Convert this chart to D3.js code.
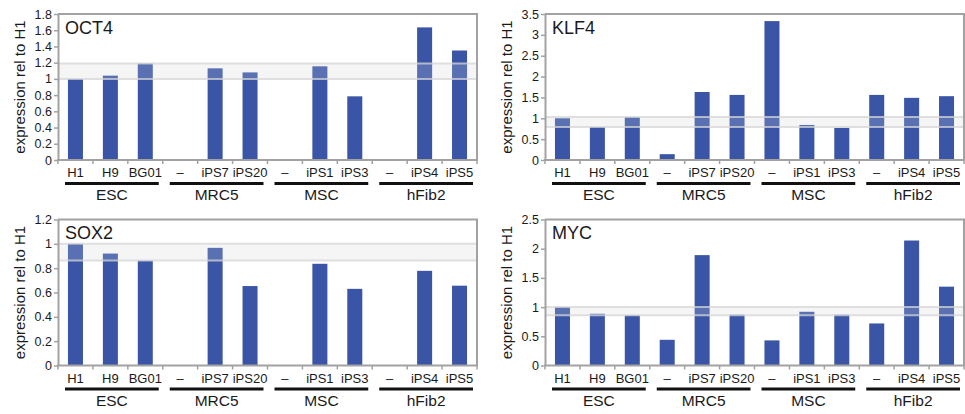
<!DOCTYPE html>
<html>
<head>
<meta charset="utf-8">
<script src="https://cdn.jsdelivr.net/npm/d3@7"></script>
<style>
  body { margin: 0; background: #fff; }
  svg { display: block; }
  text { font-family: "Liberation Sans", Arial, Helvetica, sans-serif; fill: #1a1a1a; }
</style>
</head>
<body>
<svg id="chart" width="965" height="414"></svg>
<script>
// Sample labels along the x axis and the source-cell groups beneath them
const categories = ["H1", "H9", "BG01", "–", "iPS7", "iPS20", "–", "iPS1", "iPS3", "–", "iPS4", "iPS5"];
const groups = ["ESC", "MRC5", "MSC", "hFib2"];

// Expression relative to H1 (null = not measured)
const oct4Values = [1.0, 1.04, 1.19, null, 1.13, 1.08, null, 1.155, 0.785, null, 1.635, 1.35];
const klf4Values = [1.0, 0.79, 1.03, 0.14, 1.63, 1.56, 3.33, 0.84, 0.77, 1.56, 1.49, 1.53];
const sox2Values = [1.0, 0.92, 0.862, null, 0.967, 0.653, null, 0.836, 0.63, null, 0.778, 0.656];
const mycValues  = [1.0, 0.886, 0.86, 0.44, 1.89, 0.87, 0.43, 0.92, 0.87, 0.72, 2.14, 1.35];

// Y tick labels per gene
const oct4Ticks = [0, 0.2, 0.4, 0.6, 0.8, 1, 1.2, 1.4, 1.6, 1.8];
const klf4Ticks = [0, 0.5, 1, 1.5, 2, 2.5, 3, 3.5];
const sox2Ticks = [0, 0.2, 0.4, 0.6, 0.8, 1, 1.2];
const mycTicks  = [0, 0.5, 1, 1.5, 2, 2.5];

const genes = ["OCT4", "KLF4", "SOX2", "MYC"];
const geneValues = [oct4Values, klf4Values, sox2Values, mycValues];
const geneTicks = [oct4Ticks, klf4Ticks, sox2Ticks, mycTicks];

// Layout
const plotW = 419, plotH = 146;
const origins = [[58, 14], [545, 14], [58, 219.5], [545, 219.5]];
const barColor = "#3a55a5";
const frameColor = "#a2a2a2";

const svg = d3.select("#chart");

genes.forEach((gene, gi) => {
  const values = geneValues[gi];
  const ticks = geneTicks[gi];
  const [ox, oy] = origins[gi];
  const g = svg.append("g").attr("transform", `translate(${ox},${oy})`);

  const x = d3.scaleBand()
    .domain(d3.range(categories.length))
    .range([0, plotW])
    .paddingInner(0.57)
    .paddingOuter(0.285);
  const y = d3.scaleLinear()
    .domain([0, d3.max(ticks)])
    .range([plotH, 0]);

  const gap = (x.step() - x.bandwidth()) / 2;
  const boundary = i => (i < categories.length ? x(i) - gap : x(categories.length - 1) + x.bandwidth() + gap);

  // ESC reference range (min..max of the three ESC lines)
  const escExtent = d3.extent(values.slice(0, 3));
  const bandY0 = y(escExtent[1]), bandY1 = y(escExtent[0]);

  g.append("rect")
    .attr("x", 0).attr("y", bandY0)
    .attr("width", plotW).attr("height", bandY1 - bandY0)
    .attr("fill", "#f3f3f3");

  // Bars
  g.selectAll("rect.bar")
    .data(values.map((v, i) => ({ v, i })).filter(d => d.v != null))
    .join("rect")
    .attr("class", "bar")
    .attr("x", d => x(d.i))
    .attr("y", d => y(d.v))
    .attr("width", x.bandwidth())
    .attr("height", d => plotH - y(d.v))
    .attr("fill", barColor);

  // Translucent ESC band over the bars
  g.append("rect")
    .attr("x", 0).attr("y", bandY0)
    .attr("width", plotW).attr("height", bandY1 - bandY0)
    .attr("fill", "#ffffff").attr("fill-opacity", 0.16);
  g.selectAll("line.band")
    .data(escExtent)
    .join("line")
    .attr("class", "band")
    .attr("x1", 0).attr("x2", plotW)
    .attr("y1", d => y(d)).attr("y2", d => y(d))
    .attr("stroke", "#d6d6d6").attr("stroke-opacity", 0.75).attr("stroke-width", 2);

  // Frame: top and right edges
  g.append("path")
    .attr("d", `M0,0H${plotW}V${plotH}`)
    .attr("fill", "none")
    .attr("stroke", frameColor).attr("stroke-width", 2);

  // Y axis
  const yAxis = g.append("g")
    .call(d3.axisLeft(y).tickValues(ticks).tickSize(4).tickSizeOuter(0).tickPadding(2).tickFormat(d3.format("")));
  yAxis.select(".domain").attr("stroke", frameColor).attr("stroke-width", 2);
  yAxis.selectAll(".tick line").attr("stroke", frameColor).attr("stroke-width", 1.5);
  yAxis.selectAll(".tick text")
    .style("font-size", "12.5px")
    .style("font-family", "'Liberation Sans', Arial, sans-serif")
    .attr("fill", "#1a1a1a");

  // X axis baseline with boundary ticks
  g.append("line")
    .attr("x1", -1).attr("x2", plotW + 1)
    .attr("y1", plotH).attr("y2", plotH)
    .attr("stroke", frameColor).attr("stroke-width", 2);
  g.selectAll("line.xtick")
    .data(d3.range(categories.length + 1))
    .join("line")
    .attr("class", "xtick")
    .attr("x1", d => boundary(d)).attr("x2", d => boundary(d))
    .attr("y1", plotH).attr("y2", plotH + 4)
    .attr("stroke", frameColor).attr("stroke-width", 1.5);

  g.selectAll("text.xlab")
    .data(categories)
    .join("text")
    .attr("class", "xlab")
    .attr("x", (d, i) => x(i) + x.bandwidth() / 2)
    .attr("y", plotH + 17)
    .attr("text-anchor", "middle")
    .style("font-size", "13px")
    .text(d => d);

  // Group underlines and labels
  groups.forEach((grp, k) => {
    const x0 = boundary(k * 3) + 7;
    const x1 = boundary(k * 3 + 3) - 4;
    g.append("line")
      .attr("x1", x0).attr("x2", x1)
      .attr("y1", plotH + 23.5).attr("y2", plotH + 23.5)
      .attr("stroke", "#111").attr("stroke-width", 3);
    g.append("text")
      .attr("x", (x0 + x1) / 2)
      .attr("y", plotH + 40)
      .attr("text-anchor", "middle")
      .style("font-size", "15.5px")
      .text(grp);
  });

  // Gene name
  g.append("text")
    .attr("x", 7).attr("y", 19.5)
    .style("font-size", "18px")
    .text(gene);

  // Y axis title
  g.append("text")
    .attr("transform", `translate(-33,${plotH / 2}) rotate(-90)`)
    .attr("text-anchor", "middle")
    .style("font-size", "15px")
    .text("expression rel to H1");
});
</script>
</body>
</html>
